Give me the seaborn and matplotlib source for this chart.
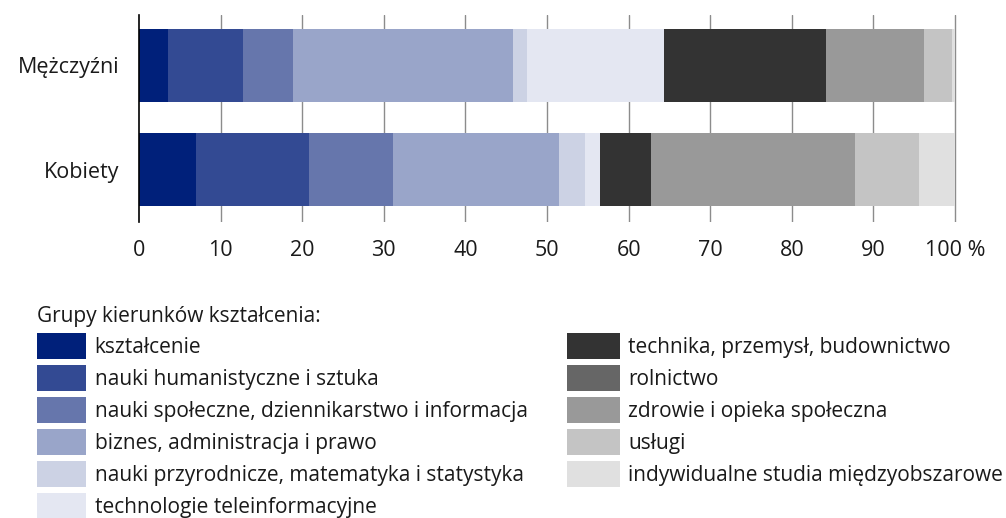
import pandas as pd
import numpy as np
import matplotlib
matplotlib.use("Agg")
import matplotlib.pyplot as plt
from matplotlib.patches import Patch
import seaborn as sns

groups = ["Mężczyźni", "Kobiety"]
fields = [
    "kształcenie",
    "nauki humanistyczne i sztuka",
    "nauki społeczne, dziennikarstwo i informacja",
    "biznes, administracja i prawo",
    "nauki przyrodnicze, matematyka i statystyka",
    "technologie teleinformacyjne",
    "technika, przemysł, budownictwo",
    "rolnictwo",
    "zdrowie i opieka społeczna",
    "usługi",
    "indywidualne studia międzyobszarowe",
]
men = [3.5, 9.3, 6.1, 26.9, 1.8, 16.8, 19.8, 0.0, 12.0, 3.5, 0.3]
women = [7.0, 13.8, 10.3, 20.4, 3.2, 1.8, 6.2, 0.0, 25.1, 7.8, 4.4]
colors = ["#00207a", "#334a93", "#6676ac", "#99a5c9", "#ccd2e4", "#e4e7f2",
          "#333333", "#666666", "#999999", "#c4c4c4", "#e0e0e0"]
xticks = [0, 10, 20, 30, 40, 50, 60, 70, 80, 90, 100]
xticklabels = ["0", "10", "20", "30", "40", "50", "60", "70", "80", "90", "100 %"]

sns.set_theme(style="white")
plt.rcParams["font.family"] = ["Open Sans", "DejaVu Sans"]
plt.rcParams["text.color"] = "#1a1a1a"
plt.rcParams["xtick.color"] = "#1a1a1a"
plt.rcParams["ytick.color"] = "#1a1a1a"
TICK_FS = 15.5
LEG_FS = 15

df = pd.DataFrame({"grupa": groups * len(fields),
                   "kierunek": np.repeat(fields, 2),
                   "udzial": [v for pair in zip(men, women) for v in pair]})
df["cum"] = df.groupby("grupa", sort=False)["udzial"].cumsum()

fig = plt.figure(figsize=(10.06, 5.18), dpi=100)
ax = fig.add_axes([0.1382, 0.5714, 0.8151, 0.3996])

# stacked bars: draw cumulative totals from the last field to the first
for f, c in reversed(list(zip(fields, colors))):
    sub = df[df["kierunek"] == f]
    sns.barplot(data=sub, x="cum", y="grupa", order=groups, color=c,
                width=0.7, saturation=1, linewidth=0, ax=ax, zorder=2)

ax.set_xlim(0, 100.5)
ax.set_ylim(1.5, -0.48)
ax.set_xticks(xticks)
ax.set_xticklabels(xticklabels, fontsize=TICK_FS)
ax.tick_params(axis="y", labelsize=TICK_FS, length=0, pad=14)
ax.tick_params(axis="x", length=0, pad=13)
ax.set_xlabel("")
ax.set_ylabel("")
for x in xticks[1:]:
    ax.axvline(x, color="#8c8c8c", lw=1, zorder=1)
for s in ["top", "right", "bottom"]:
    ax.spines[s].set_visible(False)
ax.spines["left"].set_color("black")
ax.spines["left"].set_linewidth(1.2)
ax.spines["left"].set_zorder(3)

handles = [Patch(facecolor=c, edgecolor="none") for c in colors]
leg_kw = dict(frameon=False, fontsize=LEG_FS, handleheight=1.54,
              handletextpad=0.4, labelspacing=0.29, borderaxespad=0,
              loc="upper left")
leg1 = fig.legend(handles[:6], fields[:6], bbox_to_anchor=(0.0308, 0.422),
                  title="Grupy kierunków kształcenia:", title_fontsize=LEG_FS,
                  alignment="left", handlelength=2.35, borderpad=0.3, **leg_kw)
leg2 = fig.legend(handles[6:], fields[6:], bbox_to_anchor=(0.5636, 0.357),
                  handlelength=2.55, borderpad=0, **leg_kw)

fig.savefig("out.png", dpi=100)
